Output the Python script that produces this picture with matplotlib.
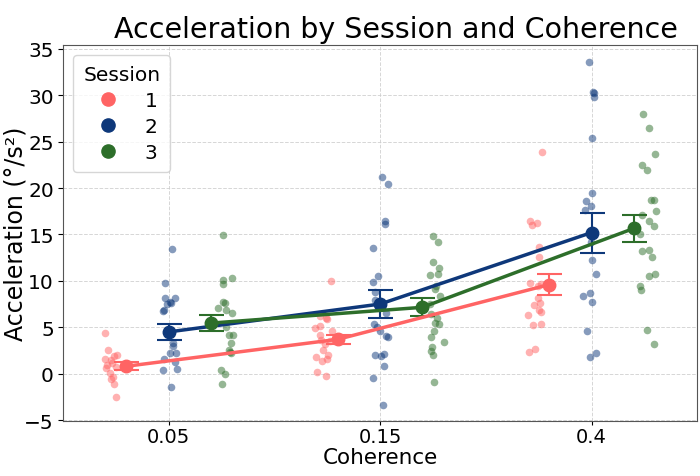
import numpy as np
import matplotlib
matplotlib.use("Agg")
import matplotlib.pyplot as plt

# coherence levels (categorical x) and sessions
coherence = ["0.05", "0.15", "0.4"]
sessions = ["1", "2", "3"]
colors = ["#FF6464", "#0E387A", "#2D6E2A"]

# individual accelerations
s1_005 = [4.4, 2.6, 2.0, 1.9, 1.6, 1.5, 1.2, 0.9, 0.7, 0.6, 0.1, -0.4, -0.6, -1.1, -2.5]
s2_005 = [13.4, 9.8, 8.2, 8.1, 7.7, 7.5, 7.6, 6.9, 6.8, 3.3, 3.0, 2.2, 2.2, 1.6, 1.3, 0.4, 0.5, -1.45]
s3_005 = [14.95, 10.3, 10.1, 9.7, 7.75, 7.6, 7.05, 6.9, 6.5, 5.0, 4.2, 4.15, 3.3, 2.5, 2.3, 2.2, 0.35, 0.0, -1.1]
s1_015 = [10.0, 6.2, 6.0, 5.85, 5.1, 4.9, 4.6, 4.2, 3.6, 3.5, 3.2, 2.5, 2.0, 1.8, 1.6, 1.4, 0.2, -0.2]
s2_015 = [21.2, 20.4, 16.4, 16.1, 13.5, 10.5, 9.9, 8.8, 7.9, 6.5, 5.4, 5.0, 4.6, 4.1, 3.9, 2.1, 2.0, 1.85, 0.8, -0.5, -3.35]
s3_015 = [14.8, 14.2, 12.0, 11.4, 10.7, 10.6, 9.4, 9.1, 8.4, 7.5, 6.4, 6.0, 5.5, 5.3, 4.6, 4.0, 3.4, 2.9, 2.4, 2.0, -0.9]
s1_04 = [23.9, 16.4, 16.2, 16.0, 13.7, 12.6, 9.8, 9.7, 9.5, 8.2, 7.6, 7.4, 6.9, 6.6, 6.3, 5.4, 5.2, 2.7, 2.3]
s2_04 = [33.6, 30.35, 30.2, 29.8, 25.4, 19.5, 18.6, 18.1, 17.6, 14.2, 12.3, 10.7, 8.7, 8.4, 7.7, 4.6, 2.2, 1.8]
s3_04 = [28.0, 26.5, 23.65, 22.5, 21.9, 18.75, 18.7, 17.5, 17.05, 16.5, 15.9, 15.1, 13.35, 13.2, 12.6, 10.7, 10.5, 9.4, 9.0, 4.7, 3.2]

raw = [
    [s1_005, s1_015, s1_04],
    [s2_005, s2_015, s2_04],
    [s3_005, s3_015, s3_04],
]

# session means and standard errors as drawn
mean_s1 = [0.8, 3.7, 9.6]
mean_s2 = [4.5, 7.5, 15.2]
mean_s3 = [5.45, 7.15, 15.65]
se_s1 = [0.45, 0.5, 1.1]
se_s2 = [0.85, 1.5, 2.15]
se_s3 = [0.85, 0.95, 1.45]
means = [mean_s1, mean_s2, mean_s3]
ses = [se_s1, se_s2, se_s3]

fig = plt.figure(figsize=(7, 4.77), dpi=100)
ax = fig.add_axes([0.09, 0.1153, 0.906, 0.788])

rng = np.random.default_rng(3)
x = np.arange(len(coherence))
strip_off = [-0.267, 0.0, 0.267]
point_off = [-0.2, 0.0, 0.2]

for i, s in enumerate(sessions):
    for j in range(len(coherence)):
        vals = np.array(raw[i][j])
        xs = x[j] + strip_off[i] + rng.uniform(-0.04, 0.04, len(vals))
        ax.scatter(xs, vals, s=30, color=colors[i], alpha=0.5, linewidths=0, zorder=2)

for i, s in enumerate(sessions):
    ax.errorbar(x + point_off[i], means[i], yerr=ses[i], color=colors[i],
                marker="o", markersize=9, linewidth=2.5, elinewidth=1.5,
                capsize=9, capthick=1.5, zorder=4, label=s)

ax.set_xlim(-0.5, 2.5)
ax.set_ylim(-5.1, 35.4)
ax.set_yticks(np.arange(-5, 36, 5))
ax.set_xticks(x)
ax.set_xticklabels(coherence)
ax.tick_params(axis="y", labelsize=14.5, pad=3)
ax.tick_params(axis="x", labelsize=14, length=3, pad=1.5)
ax.grid(True, linestyle="--", color="#cccccc", linewidth=0.7, alpha=0.8)
ax.set_axisbelow(True)
for sp in ax.spines.values():
    sp.set_color("#555555")

ax.set_xlabel("Coherence", fontsize=15.5, labelpad=0.5)
ax.set_ylabel("Acceleration (°/s²)", fontsize=17)
ax.yaxis.set_label_coords(-0.056, 0.5)
ax.set_title("Acceleration by Session and Coherence", fontsize=20.5, pad=6, x=0.525)

handles = [plt.Line2D([], [], marker="o", linestyle="", color=c, markersize=9.5) for c in colors]
ax.legend(handles, sessions, title="Session", loc="upper left", fontsize=14.5,
          title_fontsize=14.5, handletextpad=0.7, borderpad=0.5, labelspacing=0.35,
          handlelength=2.2)

fig.savefig("out.png", dpi=100)
